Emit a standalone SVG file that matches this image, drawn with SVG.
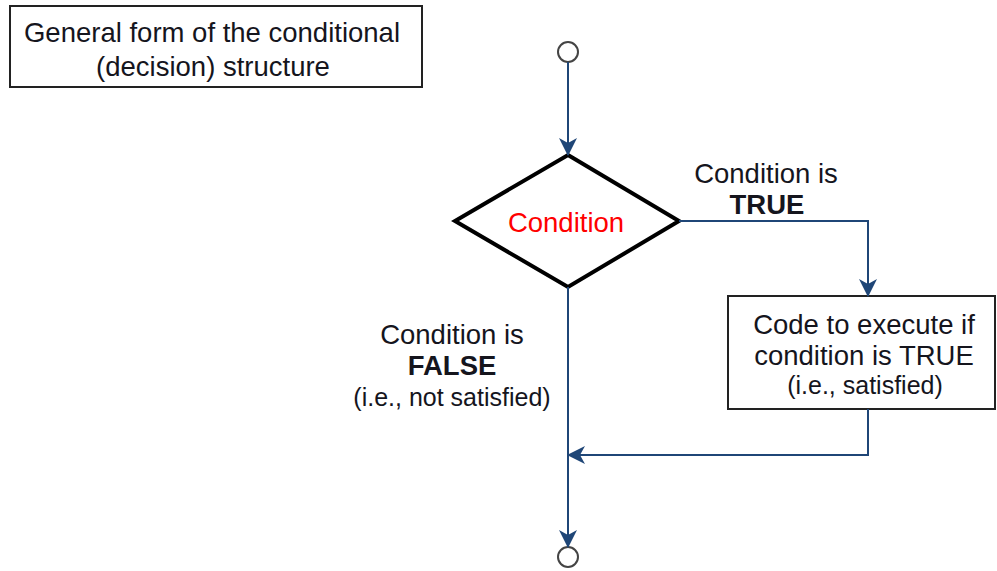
<svg xmlns="http://www.w3.org/2000/svg" width="997" height="571" viewBox="0 0 997 571">
<style>
text{font-family:"Liberation Sans",Arial,sans-serif;font-size:27.5px;fill:#15151d;text-anchor:middle}
.b{font-weight:bold}
.s{font-size:25px}
.red{fill:#ff0000}
.box{fill:#fff;stroke:#222;stroke-width:2}
.dia{fill:#fff;stroke:#000;stroke-width:4}
.term{fill:#fff;stroke:#444;stroke-width:2}
.con{fill:none;stroke:#1f4677;stroke-width:2}
</style>
<defs>
<marker id="arr" viewBox="0 0 18 18" refX="17" refY="9" markerWidth="18" markerHeight="18" markerUnits="userSpaceOnUse" orient="auto">
<path d="M0,0 L18,9 L0,18 L5,9 Z" fill="#1f4677"/>
</marker>
</defs>
<rect width="997" height="571" fill="#fff"/>
<g id="title">
<rect class="box" x="10" y="6" width="412" height="81"/>
<text x="212" y="42">General form of the conditional</text>
<text x="213" y="76">(decision) structure</text>
</g>
<g id="start"><circle class="term" cx="568" cy="52" r="10"/></g>
<g id="condition">
<polygon class="dia" points="568,155 679,221 568,287 455,221"/>
<text class="red" x="566" y="232">Condition</text>
</g>
<g id="code">
<rect class="box" x="728" y="296" width="267" height="113"/>
<text x="864" y="334">Code to execute if</text>
<text x="864" y="365">condition is TRUE</text>
<text class="s" x="865" y="394">(i.e., satisfied)</text>
</g>
<g id="end"><circle class="term" cx="568" cy="557" r="10"/></g>
<g id="connectors">
<path class="con" d="M568,62 L568,155" marker-end="url(#arr)"/>
<path class="con" d="M679,221 L868,221 L868,296" marker-end="url(#arr)"/>
<path class="con" d="M568,287 L568,547" marker-end="url(#arr)"/>
<path class="con" d="M868,409 L868,455 L568,455" marker-end="url(#arr)"/>
</g>
<g id="labels">
<text x="766" y="183">Condition is</text>
<text class="b" x="767" y="214">TRUE</text>
<text x="452" y="344">Condition is</text>
<text class="b" x="452" y="375">FALSE</text>
<text class="s" x="452" y="406">(i.e., not satisfied)</text>
</g>
</svg>
